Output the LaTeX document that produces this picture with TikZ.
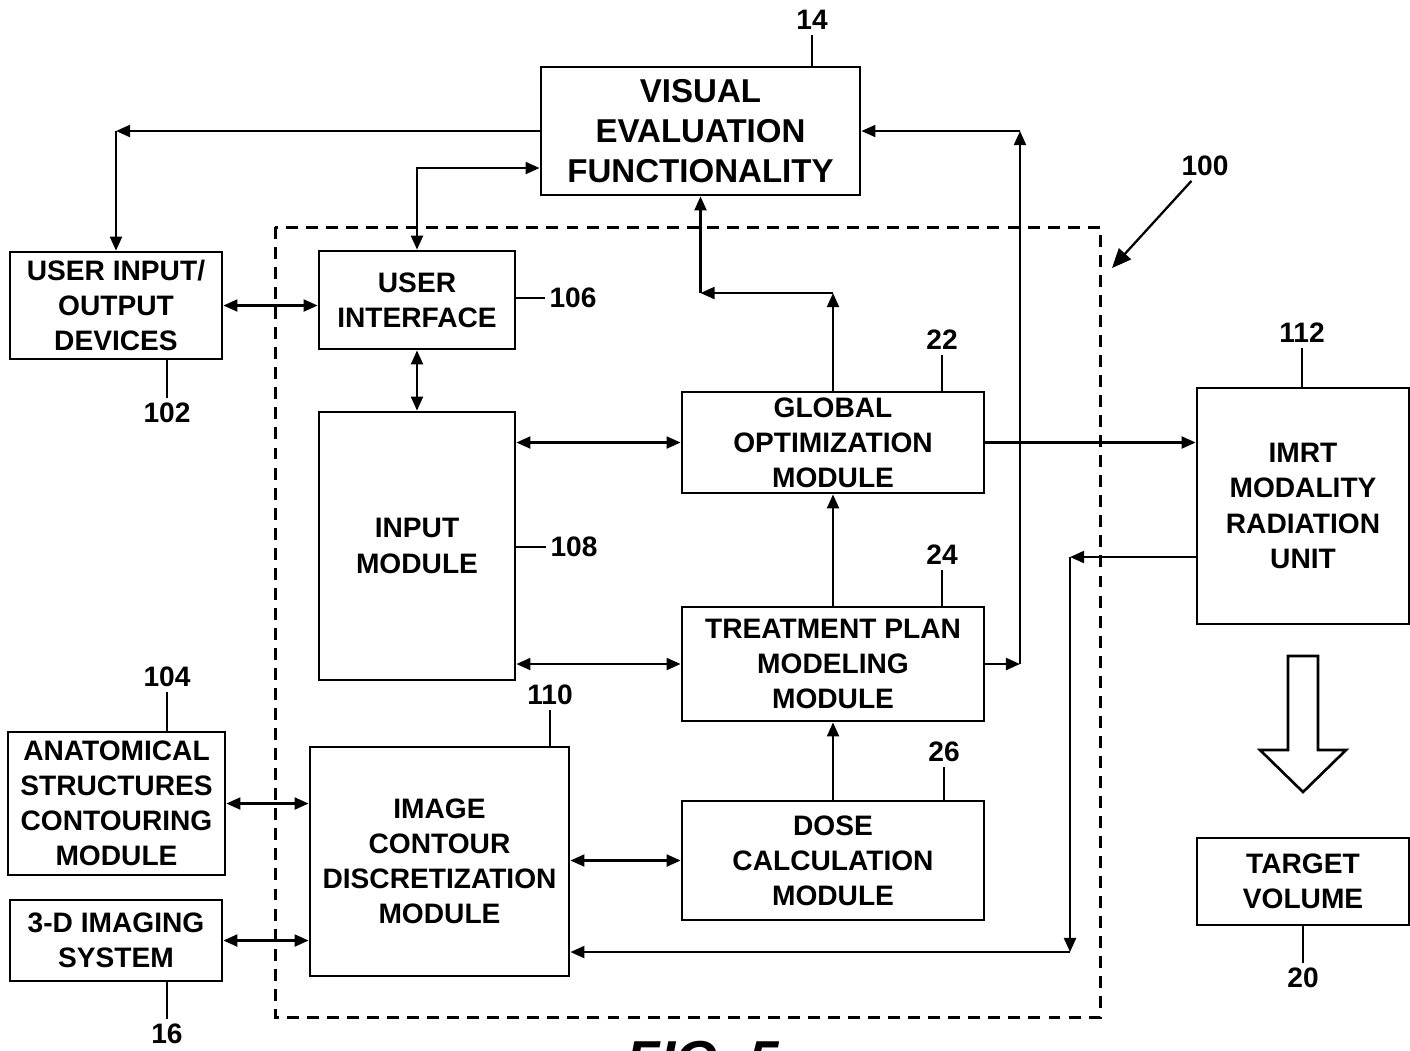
\documentclass[tikz,border=0pt]{standalone}
\usepackage{fontspec}
\setmainfont{Liberation Sans}
\usetikzlibrary{arrows.meta}

\begin{document}
\begin{tikzpicture}[x=0.01cm,y=-0.01cm,
  >={Triangle[length=4pt,width=3.4pt]},
  blk/.style={draw,line width=0.75pt,inner sep=0pt,align=center,font=\bfseries\fontsize{8}{10}\selectfont},
  num/.style={inner sep=1.2pt,font=\bfseries\fontsize{8}{10}\selectfont},
  wire/.style={line width=0.65pt}]
  \useasboundingbox (0,0) rectangle (1410,1050);

  % system boundary
  \draw[line width=0.85pt,dash pattern=on 3.4pt off 2.3pt] (275,227) rectangle (1100,1017);

  % blocks
  \node[blk,minimum width=3.19cm,minimum height=1.28cm,font=\bfseries\fontsize{9.4}{11.4}\selectfont] (vef) at (700.5,131) {VISUAL\\EVALUATION\\FUNCTIONALITY};
  \node[blk,minimum width=2.12cm,minimum height=1.07cm] (uio) at (116,305.5) {USER INPUT/\\OUTPUT\\DEVICES};
  \node[blk,minimum width=1.96cm,minimum height=0.98cm] (ui) at (417,300) {USER\\INTERFACE};
  \node[blk,minimum width=1.96cm,minimum height=2.68cm] (inp) at (417,546) {INPUT\\MODULE};
  \node[blk,minimum width=3.02cm,minimum height=1.01cm] (glob) at (833,442.5) {GLOBAL\\OPTIMIZATION\\MODULE};
  \node[blk,minimum width=3.02cm,minimum height=1.14cm] (treat) at (833,664) {TREATMENT PLAN\\MODELING\\MODULE};
  \node[blk,minimum width=3.02cm,minimum height=1.19cm] (dose) at (833,860.5) {DOSE\\CALCULATION\\MODULE};
  \node[blk,minimum width=2.59cm,minimum height=2.29cm] (img) at (439.5,861.5) {IMAGE\\CONTOUR\\DISCRETIZATION\\MODULE};
  \node[blk,minimum width=2.17cm,minimum height=1.43cm] (anat) at (116.5,803.5) {ANATOMICAL\\STRUCTURES\\CONTOURING\\MODULE};
  \node[blk,minimum width=2.12cm,minimum height=0.81cm] (img3d) at (116,940.5) {3-D IMAGING\\SYSTEM};
  \node[blk,minimum width=2.12cm,minimum height=2.36cm] (imrt) at (1303,506) {IMRT\\MODALITY\\RADIATION\\UNIT};
  \node[blk,minimum width=2.12cm,minimum height=0.87cm] (tgt) at (1303,881.5) {TARGET\\VOLUME};

  % corners of the routed lines
  \coordinate (c1) at (uio.north |- vef.west);
  \coordinate (c2) at (vef.west |- 0,168);
  \coordinate (c3) at (glob.north |- 0,293);
  \coordinate (c4) at (vef.south |- c3);
  \coordinate (c5) at (1020,664);
  \coordinate (c6) at (c5 |- vef.east);
  \coordinate (c7) at (1070,557);
  \coordinate (c8) at (c7 |- 0,952);

  % connectors
  \draw[wire,->] (vef.west) -- (c1);
  \draw[wire,->] (c1) -- (uio);
  \draw[wire,<->] (ui.north) |- (c2);
  \draw[wire,<->] (uio.east) -- (uio.east -| ui.west);
  \draw[wire,<->] (ui) -- (inp);
  \draw[wire,<->] (inp.east |- glob.west) -- (glob.west);
  \draw[wire,<->] (inp.east |- treat.west) -- (treat.west);
  \draw[wire,<->] (img.east |- dose.west) -- (dose.west);
  \draw[wire,<->] (anat.east) -- (anat.east -| img.west);
  \draw[wire,<->] (img3d.east) -- (img3d.east -| img.west);
  \draw[wire,->] (glob) -- (c3);
  \draw[wire,->] (c3) -- (c4);
  \draw[wire,->] (c4) -- (vef);
  \draw[wire,->] (treat) -- (glob);
  \draw[wire,->] (dose) -- (treat);
  \draw[wire,->] (treat.east) -- (c5);
  \draw[wire,->] (c5) -- (c6);
  \draw[wire,->] (c6) -- (vef.east);
  \draw[wire,->] (glob.east) -- (glob.east -| imrt.west);
  \draw[wire,->] (imrt.west |- c7) -- (c7);
  \draw[wire,->] (c7) -- (c8);
  \draw[wire,->] (c8) -- (c8 -| img.east);

  % beam delivered to the target
  \draw[line width=0.75pt,line join=miter] (1288,656) -- (1318,656) -- (1318,750) -- (1346,750)
    -- (1303,792) -- (1260,750) -- (1288,750) -- cycle;

  % reference numerals
  \node[num] (n14) at (812,20) {14};
  \node[num] (n102) at (167,413) {102};
  \node[num] (n106) at (573,298) {106};
  \node[num] (n108) at (574,547) {108};
  \node[num] (n22) at (942,340) {22};
  \node[num] (n24) at (942,555) {24};
  \node[num] (n26) at (944,752) {26};
  \node[num] (n110) at (550,695) {110};
  \node[num] (n104) at (167,677) {104};
  \node[num] (n16) at (167,1034) {16};
  \node[num] (n112) at (1302,333) {112};
  \node[num] (n20) at (1303,978) {20};
  \node[num] (n100) at (1205,166) {100};
  \coordinate (a100) at (1112,268);

  \draw[wire] (n14) -- (n14 |- vef.north);
  \draw[wire] (n102) -- (n102 |- uio.south);
  \draw[wire] (n106) -- (n106 -| ui.east);
  \draw[wire] (n108) -- (n108 -| inp.east);
  \draw[wire] (n22) -- (n22 |- glob.north);
  \draw[wire] (n24) -- (n24 |- treat.north);
  \draw[wire] (n26) -- (n26 |- dose.north);
  \draw[wire] (n110) -- (n110 |- img.north);
  \draw[wire] (n104) -- (n104 |- anat.north);
  \draw[wire] (n16) -- (n16 |- img3d.south);
  \draw[wire] (n112) -- (n112 |- imrt.north);
  \draw[wire] (n20) -- (n20 |- tgt.south);
  \draw[wire,-{Triangle[length=5.5pt,width=4.6pt]}] (n100) -- (a100);

  \node[anchor=base,inner sep=0pt,font=\bfseries\itshape\fontsize{15.6}{18}\selectfont] (fig) at (703,1079) {FIG. 5};
\end{tikzpicture}
\end{document}
